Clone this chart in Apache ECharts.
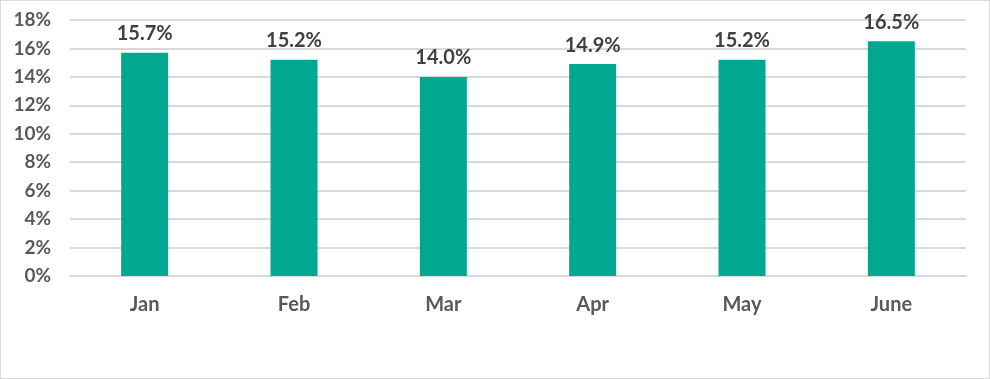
<!DOCTYPE html>
<html>
<head>
<meta charset="utf-8">
<script src="https://cdn.jsdelivr.net/npm/echarts@6/dist/echarts.min.js"></script>
<style>
html,body{margin:0;padding:0;background:#fff;}
#wrap{width:988px;height:377px;border:1px solid #d9d9d9;background:#fff;}
#chart{width:988px;height:377px;}
</style>
</head>
<body>
<div id="wrap"><div id="chart"></div></div>
<script>
var categories = ['Jan', 'Feb', 'Mar', 'Apr', 'May', 'June'];
var values = [15.7, 15.2, 14.0, 14.9, 15.2, 16.5];
var yTicks = { min: 0, max: 18, interval: 2 };

var chart = echarts.init(document.getElementById('chart'), null, { renderer: 'canvas' });
chart.setOption({
  animation: false,
  backgroundColor: '#ffffff',
  grid: { left: 69, right: 23, top: 19, bottom: 102, containLabel: false },
  xAxis: {
    type: 'category',
    data: categories,
    axisLine: { show: true, lineStyle: { color: '#d9d9d9', width: 2 } },
    axisTick: { show: false },
    axisLabel: { color: '#595959', fontFamily: 'Lato', fontWeight: 'bold', fontSize: 20, margin: 19 }
  },
  yAxis: {
    type: 'value',
    min: yTicks.min,
    max: yTicks.max,
    interval: yTicks.interval,
    axisLine: { show: false },
    axisTick: { show: false },
    splitLine: { lineStyle: { color: '#d9d9d9', width: 2 } },
    axisLabel: { color: '#595959', fontFamily: 'Lato', fontWeight: 'bold', fontSize: 19, margin: 19, formatter: '{value}%' }
  },
  series: [{
    type: 'bar',
    data: values,
    barWidth: 47,
    itemStyle: { color: '#00A88F' },
    label: {
      show: true,
      position: 'top',
      distance: 9,
      color: '#404040',
      fontFamily: 'Lato',
      fontWeight: 'bold',
      fontSize: 20,
      formatter: function (p) { return p.value.toFixed(1) + '%'; }
    }
  }]
});
</script>
</body>
</html>
